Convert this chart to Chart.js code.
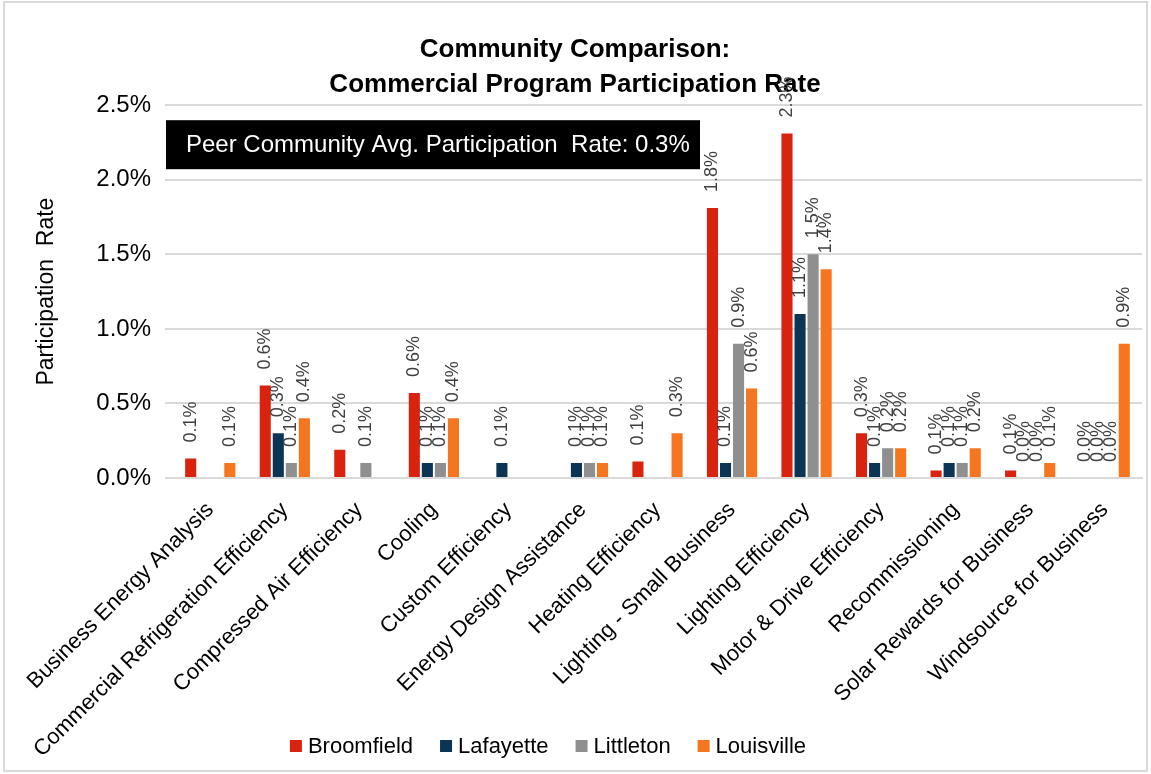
<!DOCTYPE html>
<html>
<head>
<meta charset="utf-8">
<script src="https://cdn.jsdelivr.net/npm/chart.js@4.4.0/dist/chart.umd.min.js"></script>
<style>
  html, body { margin:0; padding:0; background:#fff; }
  #wrap { position:relative; width:1151px; height:774px; }
  #wrap:after { content:''; position:absolute; left:3px; top:1px; right:3px; bottom:2px; border:2px solid #d9d9d9; pointer-events:none; }
</style>
</head>
<body>
<div id="wrap"><canvas id="chart" width="1151" height="774"></canvas></div>
<script>
// categories + series (participation rate, %)
const categories = [
  'Business Energy Analysis', 'Commercial Refrigeration Efficiency', 'Compressed Air Efficiency',
  'Cooling', 'Custom Efficiency', 'Energy Design Assistance', 'Heating Efficiency',
  'Lighting - Small Business', 'Lighting Efficiency', 'Motor & Drive Efficiency',
  'Recommissioning', 'Solar Rewards for Business', 'Windsource for Business'
];
const broomfield = [0.13, 0.62, 0.19, 0.57, null, null, 0.11, 1.81, 2.31, 0.30, 0.05, 0.05, 0.0];
const lafayette  = [null, 0.30, null, 0.10, 0.10, 0.10, null, 0.10, 1.10, 0.10, 0.10, 0.0, 0.0];
const littleton  = [null, 0.10, 0.10, 0.10, null, 0.10, null, 0.90, 1.50, 0.20, 0.10, 0.0, 0.0];
const louisville = [0.10, 0.40, null, 0.40, null, 0.10, 0.30, 0.60, 1.40, 0.20, 0.20, 0.10, 0.90];
const yTicks = [0, 0.5, 1.0, 1.5, 2.0, 2.5];
const peerAvgText = 'Peer Community Avg. Participation  Rate: 0.3%';

const FONT = "'Liberation Sans', Arial, sans-serif";

// rotated value labels above each bar
const barLabels = {
  id: 'barLabels',
  afterDatasetsDraw(chart){
    const ctx = chart.ctx;
    ctx.save();
    ctx.font = `18px ${FONT}`;
    ctx.fillStyle = '#404040';
    ctx.textAlign = 'left';
    ctx.textBaseline = 'middle';
    chart.data.datasets.forEach((ds, i)=>{
      const meta = chart.getDatasetMeta(i);
      meta.data.forEach((bar, j)=>{
        const v = ds.data[j];
        if(v === null || v === undefined) return;
        const txt = (Math.round(v*10)/10).toFixed(1) + '%';
        ctx.save();
        ctx.translate(bar.x, bar.y - 16);
        ctx.rotate(-Math.PI/2);
        ctx.fillText(txt, 0, 0);
        ctx.restore();
      });
    });
    ctx.restore();
  }
};

// black call-out box with the peer average
const peerBox = {
  id: 'peerBox',
  afterDatasetsDraw(chart){
    const {ctx, chartArea} = chart;
    const x = chartArea.left - 7, y = chartArea.top + 15;
    ctx.save();
    ctx.fillStyle = '#000';
    ctx.fillRect(x, y, 534, 49);
    ctx.fillStyle = '#fff';
    ctx.font = `24px ${FONT}`;
    ctx.textBaseline = 'middle';
    ctx.fillText(peerAvgText, x + 20, y + 25);
    ctx.restore();
  }
};

// legend row drawn over the bottom of the label area (x labels run under it)
const bottomLegend = {
  id: 'bottomLegend',
  afterDraw(chart){
    const ctx = chart.ctx;
    const items = chart.data.datasets.map(d=>({ text:d.label, color:d.backgroundColor }));
    ctx.save();
    ctx.font = `22px ${FONT}`;
    ctx.textBaseline = 'middle';
    const box = 12, gapText = 6, gapItem = 27;
    const widths = items.map(it=>box + gapText + ctx.measureText(it.text).width);
    const total = widths.reduce((a,b)=>a+b,0) + gapItem*(items.length-1);
    let x = 548 - total/2;
    const y = 746;
    items.forEach((it, i)=>{
      ctx.fillStyle = it.color;
      ctx.fillRect(x, y - box/2, box, box);
      ctx.fillStyle = '#000';
      ctx.fillText(it.text, x + box + gapText, y + 1);
      x += widths[i] + gapItem;
    });
    ctx.restore();
  }
};

new Chart(document.getElementById('chart'), {
  type: 'bar',
  data: {
    labels: categories,
    datasets: [
      { label:'Broomfield', data:broomfield, backgroundColor:'#D9230F' },
      { label:'Lafayette',  data:lafayette,  backgroundColor:'#0C3455' },
      { label:'Littleton',  data:littleton,  backgroundColor:'#8F8F8F' },
      { label:'Louisville', data:louisville, backgroundColor:'#F5761F' },
    ]
  },
  options: {
    responsive:false,
    animation:false,
    categoryPercentage:0.70,
    barPercentage:0.85,
    layout:{ padding:{ left:8, right:9, top:0, bottom:0 } },
    plugins:{
      title:{
        display:true,
        text:['Community Comparison:', 'Commercial Program Participation Rate'],
        color:'#000',
        font:{ family:FONT, size:26, weight:'bold', lineHeight:1.35 },
        padding:{ top:32, bottom:3 }
      },
      legend:{ display:false },
      tooltip:{ enabled:false }
    },
    scales:{
      x:{
        grid:{ display:false },
        border:{ color:'#d9d9d9', width:2 },
        ticks:{ color:'#000', font:{ family:FONT, size:22 }, minRotation:45, maxRotation:45, autoSkip:false, padding:11 },
        afterFit(s){ s.height = 296; }
      },
      y:{
        min:0, max:2.5,
        afterBuildTicks(s){ s.ticks = yTicks.map(v=>({value:v})); },
        grid:{ color:'#d9d9d9', lineWidth:2, tickLength:8 },
        border:{ display:false },
        ticks:{ color:'#000', font:{ family:FONT, size:24 }, padding:14, callback:v=>v.toFixed(1)+'%' },
        title:{ display:true, text:'Participation  Rate', color:'#000', font:{ family:FONT, size:23 }, padding:{ top:25, bottom:0 } },
        afterFit(s){ s.width = 165; }
      }
    }
  },
  plugins:[barLabels, peerBox, bottomLegend]
});
</script>
</body>
</html>
